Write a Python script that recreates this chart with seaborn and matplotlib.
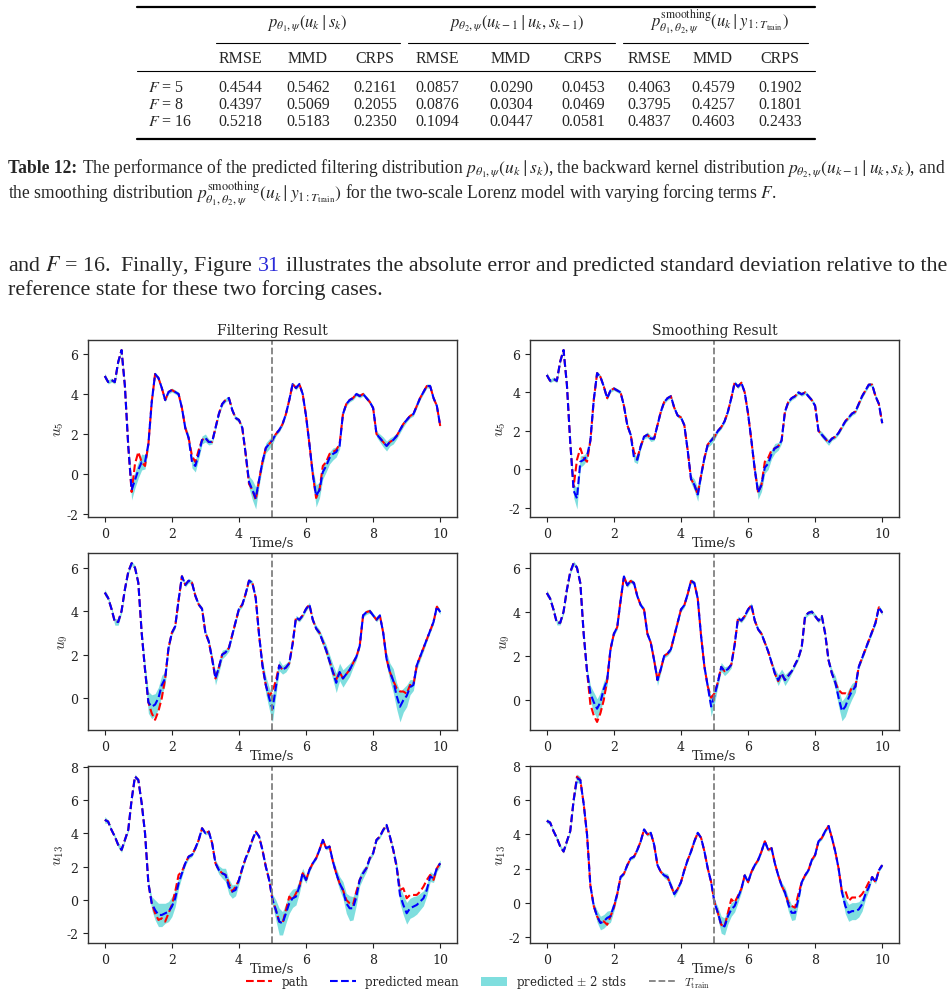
import numpy as np
import pandas as pd
import seaborn as sns
import matplotlib.pyplot as plt
from matplotlib.lines import Line2D
from matplotlib.patches import Patch
from matplotlib.font_manager import FontProperties

W, H = 953, 995

# ---------------- table values ----------------
row_labels = ["$F$ = 5", "$F$ = 8", "$F$ = 16"]
metric_names = ["RMSE", "MMD", "CRPS"]
filter_scores = [[0.4544, 0.5462, 0.2161], [0.4397, 0.5069, 0.2055], [0.5218, 0.5183, 0.2350]]
backward_scores = [[0.0857, 0.0290, 0.0453], [0.0876, 0.0304, 0.0469], [0.1094, 0.0447, 0.0581]]
smooth_scores = [[0.4063, 0.4579, 0.1902], [0.3795, 0.4257, 0.1801], [0.4837, 0.4603, 0.2433]]

# ---------------- trajectories (every 0.1 s) ----------------
time_s = np.linspace(0, 10, 101)

u5_path = [4.9, 4.6, 4.7, 4.6, 5.6, 6.2, 4.4, 1.4, -0.9, 0.5,
           1.1, 0.6, 0.4, 1.5, 3.6, 5.0, 4.8, 4.3, 3.7, 4.1,
           4.2, 4.1, 4.0, 3.3, 2.3, 1.8, 0.9, 0.6, 1.2, 1.7,
           1.8, 1.6, 1.6, 2.3, 3.0, 3.5, 3.7, 3.8, 3.2, 2.8,
           2.7, 2.3, 1.0, -0.5, -0.8, -1.3, -0.3, 0.6, 1.3, 1.5,
           1.7, 2.0, 2.2, 2.5, 3.0, 3.7, 4.5, 4.3, 4.5, 4.0,
           2.9, 1.5, 0.0, -1.2, -0.8, 0.4, 0.6, 1.0, 1.1, 1.2,
           1.5, 3.0, 3.5, 3.7, 3.8, 4.0, 3.9, 4.0, 3.8, 3.6,
           3.3, 2.0, 1.8, 1.6, 1.4, 1.6, 1.7, 1.9, 2.2, 2.5,
           2.7, 2.9, 3.0, 3.4, 3.8, 4.1, 4.4, 4.4, 3.8, 3.4,
           2.4]
u5_filt_mean = [4.9, 4.6, 4.7, 4.6, 5.6, 6.2, 4.4, 1.4, -0.8, -0.3,
                0.2, 0.6, 0.6, 1.5, 3.6, 5.0, 4.8, 4.3, 3.7, 4.1,
                4.2, 4.1, 4.0, 3.3, 2.3, 1.8, 0.6, 0.4, 1.0, 1.7,
                1.8, 1.6, 1.6, 2.3, 3.0, 3.5, 3.7, 3.8, 3.2, 2.8,
                2.7, 2.3, 1.0, -0.4, -0.8, -1.2, -0.3, 0.6, 1.3, 1.5,
                1.7, 2.0, 2.2, 2.5, 3.0, 3.7, 4.5, 4.3, 4.5, 4.0,
                2.9, 1.5, 0.0, -1.1, -0.8, 0.1, 0.4, 0.8, 1.0, 1.1,
                1.4, 3.0, 3.5, 3.7, 3.8, 4.0, 3.9, 4.0, 3.8, 3.6,
                3.3, 2.0, 1.8, 1.6, 1.4, 1.6, 1.7, 1.9, 2.2, 2.5,
                2.7, 2.9, 3.0, 3.4, 3.8, 4.1, 4.4, 4.4, 3.8, 3.4,
                2.4]
u5_smooth_mean = [4.9, 4.6, 4.7, 4.6, 5.6, 6.2, 4.4, 1.4, -1.1, -1.5,
                  0.4, 0.5, 0.7, 1.5, 3.6, 5.0, 4.8, 4.3, 3.7, 4.1,
                  4.2, 4.1, 4.0, 3.3, 2.3, 1.8, 0.6, 0.5, 1.2, 1.7,
                  1.8, 1.6, 1.6, 2.3, 3.0, 3.5, 3.7, 3.8, 3.2, 2.8,
                  2.7, 2.3, 1.0, -0.5, -0.8, -1.3, -0.3, 0.6, 1.3, 1.5,
                  1.7, 2.0, 2.2, 2.5, 3.0, 3.7, 4.5, 4.3, 4.5, 4.0,
                  2.9, 1.5, 0.0, -1.2, -0.8, 0.1, 0.3, 0.8, 1.1, 1.2,
                  1.5, 3.0, 3.5, 3.7, 3.8, 4.0, 3.9, 4.0, 3.8, 3.6,
                  3.3, 2.0, 1.8, 1.6, 1.4, 1.6, 1.7, 1.9, 2.2, 2.5,
                  2.7, 2.9, 3.0, 3.4, 3.8, 4.1, 4.4, 4.4, 3.8, 3.4,
                  2.4]
u5_filt_band = [0.15, 0.1, 0.1, 0.1, 0.1, 0.1, 0.1, 0.15, 0.5, 0.4,
                0.4, 0.4, 0.35, 0.2, 0.1, 0.1, 0.1, 0.1, 0.1, 0.1,
                0.1, 0.1, 0.1, 0.1, 0.15, 0.2, 0.3, 0.3, 0.25, 0.2,
                0.2, 0.15, 0.1, 0.1, 0.1, 0.1, 0.1, 0.1, 0.1, 0.1,
                0.1, 0.1, 0.15, 0.3, 0.5, 0.55, 0.3, 0.25, 0.25, 0.25,
                0.2, 0.1, 0.1, 0.1, 0.1, 0.1, 0.1, 0.1, 0.1, 0.1,
                0.1, 0.15, 0.3, 0.55, 0.4, 0.35, 0.3, 0.3, 0.3, 0.25,
                0.15, 0.1, 0.1, 0.1, 0.1, 0.1, 0.1, 0.1, 0.1, 0.1,
                0.1, 0.15, 0.2, 0.25, 0.25, 0.2, 0.2, 0.15, 0.15, 0.15,
                0.1, 0.1, 0.1, 0.1, 0.1, 0.1, 0.1, 0.1, 0.1, 0.1,
                0.1]
u5_smooth_band = [0.15, 0.1, 0.1, 0.1, 0.1, 0.1, 0.1, 0.15, 0.35, 0.55,
                  0.3, 0.25, 0.2, 0.15, 0.1, 0.1, 0.1, 0.1, 0.1, 0.1,
                  0.1, 0.1, 0.1, 0.1, 0.1, 0.15, 0.2, 0.2, 0.15, 0.1,
                  0.15, 0.15, 0.1, 0.1, 0.1, 0.1, 0.1, 0.1, 0.1, 0.1,
                  0.1, 0.1, 0.1, 0.2, 0.3, 0.35, 0.2, 0.15, 0.15, 0.2,
                  0.15, 0.1, 0.1, 0.1, 0.1, 0.1, 0.1, 0.1, 0.1, 0.1,
                  0.1, 0.15, 0.25, 0.35, 0.35, 0.3, 0.3, 0.25, 0.25, 0.2,
                  0.15, 0.1, 0.1, 0.1, 0.1, 0.1, 0.1, 0.1, 0.1, 0.1,
                  0.1, 0.1, 0.15, 0.15, 0.15, 0.1, 0.1, 0.1, 0.1, 0.1,
                  0.1, 0.1, 0.1, 0.1, 0.1, 0.1, 0.1, 0.1, 0.1, 0.1,
                  0.1]

u9_path = [4.85, 4.6, 4.1, 3.5, 3.5, 4.0, 5.0, 5.8, 6.2, 6.0,
           5.3, 3.0, 1.3, -0.2, -0.7, -1.0, -0.6, 0.0, 0.9, 2.3,
           3.0, 3.3, 4.5, 5.6, 5.2, 5.4, 5.3, 4.7, 4.3, 4.1,
           3.0, 2.6, 1.8, 0.9, 1.4, 2.0, 2.1, 2.3, 2.9, 3.5,
           4.1, 4.3, 4.8, 5.4, 5.3, 4.6, 2.9, 1.5, 0.6, 0.1,
           0.3, 0.8, 1.5, 1.3, 1.4, 1.6, 2.5, 3.7, 3.6, 3.8,
           4.1, 4.3, 3.6, 3.2, 3.0, 2.6, 2.2, 1.7, 1.2, 0.85,
           1.2, 0.9, 1.1, 1.3, 1.6, 1.9, 2.4, 3.8, 3.95, 4.0,
           3.8, 3.6, 3.8, 3.0, 1.8, 1.2, 0.8, 0.45, 0.3, 0.3,
           0.2, 0.6, 0.6, 1.5, 1.9, 2.3, 2.7, 3.1, 3.5, 4.2,
           3.95]
u9_filt_mean = [4.85, 4.6, 4.1, 3.5, 3.5, 4.0, 5.0, 5.8, 6.2, 6.0,
                5.3, 3.0, 1.3, -0.2, -0.4, -0.3, 0.0, 0.6, 0.9, 2.3,
                3.0, 3.3, 4.5, 5.6, 5.2, 5.4, 5.3, 4.7, 4.3, 4.1,
                3.0, 2.6, 1.8, 0.9, 1.4, 2.0, 2.1, 2.3, 2.9, 3.5,
                4.1, 4.3, 4.8, 5.4, 5.3, 4.6, 2.9, 1.5, 0.6, 0.0,
                -0.5, 0.5, 1.5, 1.3, 1.4, 1.6, 2.5, 3.7, 3.6, 3.8,
                4.1, 4.3, 3.6, 3.2, 3.0, 2.6, 2.2, 1.7, 1.2, 0.7,
                1.2, 0.9, 1.1, 1.3, 1.6, 1.9, 2.4, 3.8, 3.95, 4.0,
                3.8, 3.6, 3.8, 3.0, 1.8, 1.2, 0.8, 0.1, -0.4, -0.1,
                0.1, 0.5, 0.6, 1.5, 1.9, 2.3, 2.7, 3.1, 3.5, 4.2,
                3.95]
u9_smooth_mean = [4.85, 4.6, 4.1, 3.5, 3.5, 4.0, 5.0, 5.8, 6.2, 6.0,
                  5.3, 3.0, 1.3, 0.3, -0.1, -0.4, -0.1, 0.5, 0.9, 2.3,
                  3.0, 3.3, 4.5, 5.6, 5.2, 5.4, 5.3, 4.7, 4.3, 4.1,
                  3.0, 2.6, 1.8, 0.9, 1.4, 2.0, 2.1, 2.3, 2.9, 3.5,
                  4.1, 4.3, 4.8, 5.4, 5.3, 4.6, 2.9, 1.5, 0.6, -0.3,
                  0.2, 0.8, 1.5, 1.3, 1.4, 1.6, 2.5, 3.7, 3.6, 3.8,
                  4.1, 4.3, 3.6, 3.2, 3.0, 2.6, 2.2, 1.7, 1.2, 0.9,
                  1.2, 0.9, 1.1, 1.3, 1.6, 1.9, 2.4, 3.8, 3.95, 4.0,
                  3.8, 3.6, 3.8, 3.0, 1.8, 1.2, 0.8, 0.1, -0.5, -0.3,
                  0.1, 0.4, 0.6, 1.5, 1.9, 2.3, 2.7, 3.1, 3.5, 4.2,
                  3.95]
u9_filt_band = [0.15, 0.1, 0.1, 0.15, 0.15, 0.1, 0.1, 0.1, 0.1, 0.1,
                0.1, 0.15, 0.3, 0.5, 0.55, 0.5, 0.5, 0.45, 0.3, 0.15,
                0.1, 0.1, 0.1, 0.1, 0.1, 0.1, 0.1, 0.1, 0.1, 0.1,
                0.1, 0.15, 0.2, 0.3, 0.25, 0.2, 0.15, 0.15, 0.1, 0.1,
                0.1, 0.1, 0.1, 0.1, 0.1, 0.1, 0.15, 0.25, 0.4, 0.5,
                0.6, 0.4, 0.25, 0.2, 0.2, 0.15, 0.1, 0.1, 0.1, 0.1,
                0.1, 0.1, 0.1, 0.15, 0.15, 0.2, 0.25, 0.3, 0.35, 0.45,
                0.4, 0.4, 0.35, 0.3, 0.2, 0.15, 0.1, 0.1, 0.1, 0.1,
                0.1, 0.1, 0.1, 0.15, 0.3, 0.4, 0.55, 0.6, 0.7, 0.55,
                0.5, 0.35, 0.25, 0.2, 0.15, 0.15, 0.1, 0.1, 0.1, 0.1,
                0.1]
u9_smooth_band = [0.15, 0.1, 0.1, 0.1, 0.1, 0.1, 0.1, 0.1, 0.1, 0.1,
                  0.1, 0.1, 0.2, 0.35, 0.45, 0.45, 0.45, 0.35, 0.25, 0.1,
                  0.1, 0.1, 0.1, 0.1, 0.1, 0.1, 0.1, 0.1, 0.1, 0.1,
                  0.1, 0.1, 0.15, 0.25, 0.15, 0.1, 0.1, 0.1, 0.1, 0.1,
                  0.1, 0.1, 0.1, 0.1, 0.1, 0.1, 0.1, 0.1, 0.2, 0.45,
                  0.35, 0.2, 0.2, 0.2, 0.15, 0.15, 0.1, 0.1, 0.1, 0.1,
                  0.1, 0.1, 0.1, 0.1, 0.1, 0.1, 0.1, 0.1, 0.2, 0.25,
                  0.2, 0.25, 0.2, 0.1, 0.1, 0.1, 0.1, 0.1, 0.1, 0.1,
                  0.1, 0.1, 0.1, 0.1, 0.1, 0.2, 0.3, 0.4, 0.45, 0.45,
                  0.4, 0.35, 0.25, 0.1, 0.1, 0.1, 0.1, 0.1, 0.1, 0.1,
                  0.1]

u13_path = [4.8, 4.7, 4.2, 3.8, 3.3, 3.0, 3.6, 4.2, 6.0, 7.4,
            7.2, 5.8, 4.0, 1.0, -0.2, -0.8, -1.2, -1.1, -1.3, -0.8,
            -0.3, 0.5, 1.5, 1.7, 2.2, 2.6, 2.7, 3.1, 3.6, 4.3,
            4.0, 4.1, 3.4, 2.2, 1.8, 1.6, 1.5, 1.0, 0.5, 0.8,
            1.2, 1.9, 2.5, 3.0, 3.6, 4.1, 3.8, 3.0, 2.0, 1.2,
            0.0, -0.6, -1.3, -1.4, -0.6, 0.2, 0.0, 0.4, 0.8, 1.6,
            1.2, 1.8, 2.2, 2.5, 3.0, 3.6, 3.1, 3.2, 2.3, 1.6,
            1.0, 0.6, 0.0, -0.2, -0.3, 0.5, 1.2, 1.6, 1.9, 2.5,
            2.8, 3.6, 3.8, 4.2, 4.5, 3.8, 3.0, 2.0, 0.6, 0.7,
            0.1, 0.3, 0.3, 0.3, 0.5, 0.8, 1.2, 1.5, 1.2, 1.9,
            2.2]
u13_filt_mean = [4.8, 4.7, 4.2, 3.8, 3.3, 3.0, 3.6, 4.2, 6.0, 7.4,
                 7.2, 5.8, 4.0, 1.0, -0.2, -0.6, -0.9, -0.9, -0.8, -0.7,
                 -0.4, 0.1, 1.0, 1.6, 2.2, 2.6, 2.7, 3.1, 3.6, 4.3,
                 4.0, 4.1, 3.4, 2.2, 1.8, 1.6, 1.5, 0.8, 0.5, 0.6,
                 1.2, 1.9, 2.5, 3.0, 3.6, 4.1, 3.8, 3.0, 2.0, 1.2,
                 0.0, -0.6, -1.3, -1.4, -0.8, -0.2, 0.1, 0.2, 0.8, 1.6,
                 1.2, 1.8, 2.2, 2.5, 3.0, 3.6, 3.1, 3.2, 2.3, 1.6,
                 1.0, 0.6, -0.2, -0.5, -0.5, 0.2, 1.2, 1.6, 1.9, 2.5,
                 2.8, 3.6, 3.8, 4.2, 4.5, 3.8, 3.0, 2.0, 0.3, -0.3,
                 -0.8, -0.5, -0.4, -0.3, -0.1, 0.1, 0.6, 1.4, 1.3, 1.9,
                 2.2]
u13_smooth_mean = [4.8, 4.7, 4.2, 3.8, 3.3, 3.0, 3.6, 4.2, 6.0, 7.3,
                   7.2, 5.8, 4.0, 1.0, -0.2, -0.8, -1.2, -1.1, -0.9, -0.8,
                   -0.2, 0.5, 1.5, 1.7, 2.2, 2.6, 2.7, 3.1, 3.6, 4.3,
                   4.0, 4.1, 3.4, 2.2, 1.8, 1.6, 1.5, 1.0, 0.5, 0.8,
                   1.2, 1.9, 2.5, 3.0, 3.6, 4.1, 3.8, 3.0, 2.0, 1.2,
                   0.0, -0.6, -1.3, -1.4, -0.8, -0.4, -0.2, 0.3, 0.8, 1.6,
                   1.2, 1.8, 2.2, 2.5, 3.0, 3.6, 3.1, 3.2, 2.3, 1.6,
                   1.0, 0.6, -0.1, -0.6, -0.6, 0.2, 1.2, 1.6, 1.9, 2.5,
                   2.8, 3.6, 3.8, 4.2, 4.5, 3.8, 3.0, 2.0, 0.6, -0.2,
                   -0.6, -0.5, -0.5, -0.4, -0.1, 0.5, 0.9, 1.5, 1.2, 1.9,
                   2.2]
u13_filt_band = [0.2, 0.1, 0.1, 0.1, 0.15, 0.15, 0.1, 0.1, 0.1, 0.15,
                 0.1, 0.1, 0.1, 0.2, 0.4, 0.6, 0.7, 0.7, 0.6, 0.6,
                 0.6, 0.5, 0.3, 0.2, 0.15, 0.15, 0.1, 0.1, 0.1, 0.1,
                 0.1, 0.1, 0.15, 0.2, 0.25, 0.3, 0.4, 0.45, 0.4, 0.35,
                 0.25, 0.15, 0.1, 0.1, 0.1, 0.1, 0.1, 0.1, 0.15, 0.2,
                 0.35, 0.6, 0.8, 0.7, 0.6, 0.6, 0.55, 0.5, 0.4, 0.3,
                 0.2, 0.15, 0.1, 0.1, 0.1, 0.1, 0.1, 0.15, 0.2, 0.3,
                 0.4, 0.5, 0.6, 0.75, 0.7, 0.5, 0.35, 0.3, 0.2, 0.15,
                 0.1, 0.1, 0.1, 0.1, 0.1, 0.1, 0.15, 0.3, 0.5, 0.6,
                 0.65, 0.6, 0.6, 0.55, 0.5, 0.45, 0.35, 0.3, 0.25, 0.2,
                 0.2]
u13_smooth_band = [0.15, 0.1, 0.1, 0.1, 0.1, 0.1, 0.1, 0.1, 0.2, 0.25,
                   0.2, 0.1, 0.1, 0.1, 0.2, 0.35, 0.4, 0.4, 0.4, 0.35,
                   0.3, 0.2, 0.1, 0.1, 0.1, 0.1, 0.1, 0.1, 0.1, 0.1,
                   0.1, 0.1, 0.1, 0.1, 0.1, 0.15, 0.2, 0.2, 0.2, 0.15,
                   0.1, 0.1, 0.1, 0.1, 0.1, 0.1, 0.1, 0.1, 0.1, 0.1,
                   0.2, 0.35, 0.5, 0.5, 0.45, 0.4, 0.35, 0.3, 0.2, 0.15,
                   0.1, 0.1, 0.1, 0.1, 0.1, 0.1, 0.1, 0.1, 0.1, 0.1,
                   0.2, 0.3, 0.4, 0.45, 0.4, 0.3, 0.1, 0.1, 0.1, 0.1,
                   0.1, 0.1, 0.1, 0.1, 0.1, 0.1, 0.1, 0.1, 0.3, 0.45,
                   0.5, 0.5, 0.5, 0.45, 0.4, 0.3, 0.2, 0.1, 0.1, 0.1,
                   0.1]

# ---------------- style ----------------
sns.set_style("ticks")
plt.rcParams["font.family"] = ["DejaVu Serif"]
plt.rcParams["axes.unicode_minus"] = False
plt.rcParams["axes.edgecolor"] = "#333333"
plt.rcParams["axes.linewidth"] = 1.0
plt.rcParams["xtick.major.size"] = 3.5
plt.rcParams["ytick.major.size"] = 3.5

fig = plt.figure(figsize=(W / 100, H / 100), dpi=100)
rend = fig.canvas.get_renderer()

PAGE = "Liberation Serif"


def fx(x):
    return x / W


def fy(y):
    return 1 - y / H


def hrule(y, x0, x1, lw):
    fig.add_artist(Line2D([fx(x0), fx(x1)], [fy(y), fy(y)], transform=fig.transFigure,
                          color="black", lw=lw))


def put_parts(parts, x0, y, size):
    # parts: (string, extra kwargs, gap after in em)
    arts, x = [], x0
    for s, kw, gap in parts:
        t = fig.text(fx(x), fy(y), s, fontsize=size, va="baseline", ha="left",
                     family=PAGE, math_fontfamily="stix", **kw)
        x += t.get_window_extent(rend).width + gap * size * 100 / 72
        arts.append(t)
    return arts, x - x0


def fit_line(parts, x0, x1, y, size):
    arts, w = put_parts(parts, x0, y, size)
    for a in arts:
        a.remove()
    size = size * (x1 - x0) / w
    put_parts(parts, x0, y, size)
    return size


# ---------------- table ----------------
tsize = 11.5
hrule(8, 137, 815, 1.6)
hrule(72, 137, 815, 0.8)
hrule(140, 137, 815, 1.6)
for a, b in [(216, 400), (408, 615), (623, 808)]:
    hrule(44, a, b, 0.8)

group_heads = [r"$p_{\theta_1,\psi}(u_k \mid s_k)$",
               r"$p_{\theta_2,\psi}(u_{k-1} \mid u_k, s_{k-1})$",
               r"$p^{\mathrm{smoothing}}_{\theta_1,\theta_2,\psi}(u_k \mid y_{1:T_{\mathrm{train}}})$"]
group_x = [307, 517, 720]
group_y = [27, 27, 26]
for s, x, y in zip(group_heads, group_x, group_y):
    fig.text(fx(x), fy(y), s, fontsize=tsize + 0.5, ha="center", va="baseline",
             family=PAGE, math_fontfamily="stix")

col_x = [240, 308, 375, 437, 511, 583, 649, 713, 780]
for i, x in enumerate(col_x):
    fig.text(fx(x), fy(63), metric_names[i % 3], fontsize=tsize, ha="center",
             va="baseline", family=PAGE)

for r, lab in enumerate(row_labels):
    yb = 92 + r * 17
    fig.text(fx(148), fy(yb), lab, fontsize=tsize, ha="left", va="baseline",
             family=PAGE, math_fontfamily="stix")
    vals = filter_scores[r] + backward_scores[r] + smooth_scores[r]
    for x, v in zip(col_x, vals):
        fig.text(fx(x), fy(yb), f"{v:.4f}", fontsize=tsize, ha="center",
                 va="baseline", family=PAGE)

# ---------------- caption ----------------
cap1 = [("Table 12:", {"weight": "bold"}, 0.25),
        (r"The performance of the predicted filtering distribution $p_{\theta_1,\psi}(u_k \mid s_k)$, "
         r"the backward kernel distribution $p_{\theta_2,\psi}(u_{k-1} \mid u_k, s_k)$, and", {}, 0)]
csize = fit_line(cap1, 8, 946, 173, 10)
put_parts([(r"the smoothing distribution $p^{\mathrm{smoothing}}_{\theta_1,\theta_2,\psi}"
            r"(u_k \mid y_{1:T_{\mathrm{train}}})$ for the two-scale Lorenz model with varying "
            r"forcing terms $F$.", {}, 0)], 8, 198, csize)

# ---------------- paragraph ----------------
par1 = [(r"and $F$ = 16.  Finally, Figure", {}, 0.25),
        ("31", {"color": "#2b2bd9"}, 0.25),
        ("illustrates the absolute error and predicted standard deviation relative to the", {}, 0)]
psize = fit_line(par1, 8, 945, 271, 13)
put_parts([("reference state for these two forcing cases.", {}, 0)], 8, 295, psize)

# ---------------- trajectory panels ----------------
rows = [("5", u5_path, u5_filt_mean, u5_filt_band, u5_smooth_mean, u5_smooth_band),
        ("9", u9_path, u9_filt_mean, u9_filt_band, u9_smooth_mean, u9_smooth_band),
        ("13", u13_path, u13_filt_mean, u13_filt_band, u13_smooth_mean, u13_smooth_band)]
row_bottom = [518, 731, 944]
col_left = [88, 530]
titles = ["Filtering Result", "Smoothing Result"]

for r, (name, path, fmean, fband, smean, sband) in enumerate(rows):
    for c, (mean, band) in enumerate([(fmean, fband), (smean, sband)]):
        ax = fig.add_axes([fx(col_left[c]), fy(row_bottom[r]), 369 / W, 177 / H])
        df = pd.DataFrame({"t": time_s, "path": path, "mean": mean, "band": band})
        ax.fill_between(df["t"], df["mean"] - df["band"], df["mean"] + df["band"],
                        color="c", alpha=0.5, lw=0)
        sns.lineplot(data=df, x="t", y="path", ax=ax, color="r", linestyle="--",
                     lw=1.5, errorbar=None)
        sns.lineplot(data=df, x="t", y="mean", ax=ax, color="b", linestyle="--",
                     lw=1.5, errorbar=None)
        ax.axvline(5, color="grey", ls="--", lw=1.3)
        ax.set_xticks([0, 2, 4, 6, 8, 10])
        ax.tick_params(labelsize=9, colors="#222222")
        ax.set_xlabel("Time/s", fontsize=9.5, labelpad=-3)
        ax.set_ylabel("$u_{%s}$" % name, fontsize=11, math_fontfamily="cm", labelpad=0)
        if r == 0:
            ax.set_title(titles[c], fontsize=10, pad=4)

handles = [Line2D([], [], color="r", ls="--", lw=1.5),
           Line2D([], [], color="b", ls="--", lw=1.5),
           Patch(facecolor="c", alpha=0.5, lw=0),
           Line2D([], [], color="grey", ls="--", lw=1.3)]
labels = ["path", "predicted mean", r"predicted $\pm$ 2 stds", r"$T_{\mathrm{train}}$"]
fig.legend(handles, labels, loc="center", bbox_to_anchor=(fx(478), fy(983)), ncol=4,
           frameon=False, prop=FontProperties(family="DejaVu Serif", size=8.5, math_fontfamily="cm"),
           handlelength=2.2, handletextpad=0.8, columnspacing=1.85, borderaxespad=0)

fig.savefig("out.png", dpi=100)
